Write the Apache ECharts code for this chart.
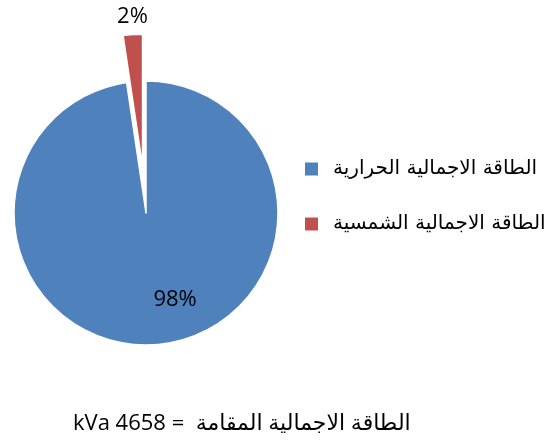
<!DOCTYPE html>
<html>
<head>
<meta charset="utf-8">
<script src="https://cdn.jsdelivr.net/npm/echarts@6/dist/echarts.min.js"></script>
<style>
html, body { margin: 0; padding: 0; background: #fff; }
#main { width: 560px; height: 444px; }
</style>
</head>
<body>
<div id="main"></div>
<script>
// data
var names = ['الطاقة الاجمالية الحرارية', 'الطاقة الاجمالية الشمسية'];
var values = [97.65, 2.35];
var colors = ['#4F81BD', '#C0504D'];
var footText = 'kVa 4658 =  الطاقة الاجمالية المقامة';

var chart = echarts.init(document.getElementById('main'));

var pieData = [];
for (var i = 0; i < names.length; i++) {
	pieData.push({
		name: names[i],
		value: values[i],
		itemStyle: { color: colors[i] }
	});
}
// the small slice is pulled out
pieData[1].selected = true;
// label offsets (from the picture)
pieData[0].label = { offset: [24, 18] };
pieData[1].label = { offset: [-5, -81] };
pieData[1].select = { label: { offset: [-5, -81] } };

var option = {
	animation: false,
	legend: {
		orient: 'vertical',
		left: 303,
		top: 159,
		padding: 0,
		itemWidth: 15,
		itemHeight: 15,
		itemGap: 35,
		icon: 'rect',
		selectedMode: false,
		textStyle: {
			fontFamily: 'DejaVu Sans',
			fontSize: 20,
			color: '#000',
			lineHeight: 20,
			padding: [0, 0, 0, 9]
		},
		data: names
	},
	title: {
		text: footText,
		left: 68,
		top: 408,
		textStyle: {
			fontFamily: 'Open Sans, DejaVu Sans',
			fontSize: 22,
			fontWeight: 'normal',
			color: '#000'
		}
	},
	series: [{
		type: 'pie',
		center: [146, 213],
		radius: 132,
		startAngle: 90,
		clockwise: true,
		percentPrecision: 0,
		selectedMode: 'single',
		selectedOffset: 47,
		emphasis: { disabled: true },
		itemStyle: {
			borderColor: '#fff',
			borderWidth: 1.5
		},
		label: {
			show: true,
			position: 'inside',
			formatter: '{d}%',
			fontFamily: 'Open Sans',
			fontSize: 22,
			color: '#000'
		},
		labelLine: { show: false },
		data: pieData
	}]
};
chart.setOption(option);
</script>
</body>
</html>
